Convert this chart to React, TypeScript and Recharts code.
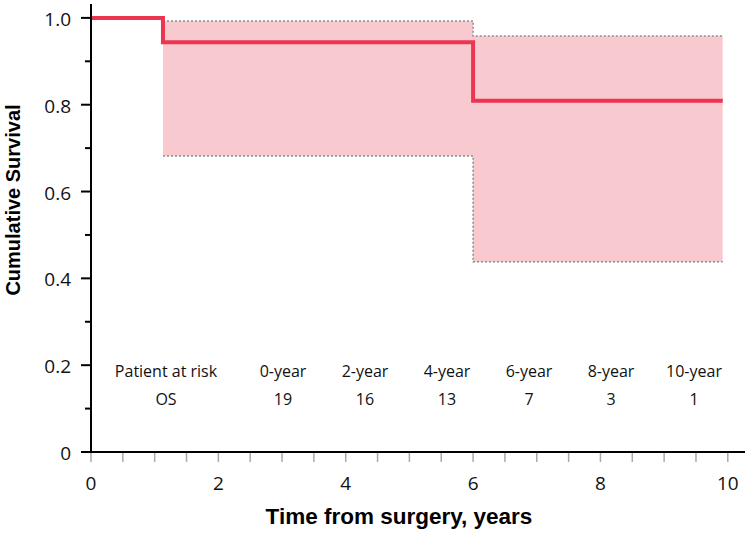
import { Area, ComposedChart, Customized, Line, XAxis, YAxis } from "recharts";

// survival step points (years from surgery)
const times = [0, 1.13, 6, 9.92];
const survival = [1, 0.944, 0.809, 0.809];
const ciLower = [null, 0.682, 0.438, 0.438];
const ciUpper = [null, 0.993, 0.958, 0.958];

// number at risk table
const riskYears = ["0-year", "2-year", "4-year", "6-year", "8-year", "10-year"];
const riskCounts = ["19", "16", "13", "7", "3", "1"];

const xTicks = [0, 0.5, 1, 1.5, 2, 2.5, 3, 3.5, 4, 4.5, 5, 5.5, 6, 6.5, 7, 7.5, 8, 8.5, 9, 9.5, 10];
const yTicks = [0, 0.1, 0.2, 0.3, 0.4, 0.5, 0.6, 0.7, 0.8, 0.9, 1.0];

const X_MAX = 10.27;
const Y_MAX = 1.032;
const AXIS_X = 91;
const AXIS_Y = 452;

const data = times.map((t, i) => ({
  t,
  s: survival[i],
  ci: ciLower[i] == null ? null : [ciLower[i], ciUpper[i]],
}));

const tickFont = { fontFamily: "'Open Sans', sans-serif", fontSize: 19, fill: "#111" };

const YTick = (props: any) => {
  const { y, payload } = props;
  const v = payload.value;
  const major = Math.round(v * 10) % 2 === 0;
  return (
    <g>
      <line x1={AXIS_X - (major ? 10 : 6)} x2={AXIS_X} y1={y} y2={y} stroke="#000" strokeWidth={2} />
      {major && (
        <text x={AXIS_X - 20} y={y + 8} textAnchor="end" {...tickFont}>
          {v === 0 ? "0" : v.toFixed(1)}
        </text>
      )}
    </g>
  );
};

const XTick = (props: any) => {
  const { x, payload } = props;
  const v = payload.value;
  const major = v % 2 === 0;
  return (
    <g>
      <line x1={x} x2={x} y1={AXIS_Y + 1} y2={AXIS_Y + 10} stroke="#aaa" strokeWidth={1.5} />
      {major && (
        <text x={x} y={490} textAnchor="middle" {...tickFont}>
          {v}
        </text>
      )}
    </g>
  );
};

const colX = [283, 365, 447, 529, 611, 694];

const Extras = () => {
  const f = { fontFamily: "'Open Sans', sans-serif", fontSize: 16, fill: "#111", textAnchor: "middle" as const };
  return (
    <g>
      <text x={166} y={377} {...f}>Patient at risk</text>
      <text x={166} y={405} {...f}>OS</text>
      {riskYears.map((r, i) => (
        <text key={r} x={colX[i]} y={377} {...f}>{r}</text>
      ))}
      {riskCounts.map((c, i) => (
        <text key={i} x={colX[i]} y={405} {...f}>{c}</text>
      ))}
      <text
        x={399}
        y={524}
        textAnchor="middle"
        fontFamily="'Liberation Sans', Arial, sans-serif"
        fontWeight="bold"
        fontSize={22.5}
        fill="#000"
      >
        Time from surgery, years
      </text>
      <text
        x={20}
        y={200}
        transform="rotate(-90 20 200)"
        textAnchor="middle"
        fontFamily="'Liberation Sans', Arial, sans-serif"
        fontWeight="bold"
        fontSize={20}
        fill="#000"
      >
        Cumulative Survival
      </text>
    </g>
  );
};

const App = () => {
  return (
    <div style={{ position: "absolute", left: 0, top: 0 }}>
      <ComposedChart width={749} height={533} data={data} margin={{ top: 4, right: 4, left: 0, bottom: 41 }}>
        <XAxis
          dataKey="t"
          type="number"
          domain={[0, X_MAX]}
          ticks={xTicks}
          interval={0}
          height={40}
          tickLine={false}
          tick={<XTick />}
          axisLine={{ stroke: "#000", strokeWidth: 2 }}
          allowDataOverflow
        />
        <XAxis
          xAxisId="top"
          orientation="top"
          type="number"
          domain={[0, X_MAX]}
          height={0}
          tick={false}
          tickLine={false}
          axisLine={{ stroke: "#000", strokeWidth: 2 }}
        />
        <YAxis
          type="number"
          domain={[0, Y_MAX]}
          ticks={yTicks}
          interval={0}
          width={91}
          tickLine={false}
          tick={<YTick />}
          axisLine={{ stroke: "#000", strokeWidth: 2 }}
          allowDataOverflow
        />
        <YAxis
          yAxisId="right"
          orientation="right"
          type="number"
          domain={[0, Y_MAX]}
          width={0}
          tick={false}
          tickLine={false}
          axisLine={{ stroke: "#000", strokeWidth: 2 }}
        />
        <Area
          dataKey="ci"
          type="stepAfter"
          fill="#f9c9d0"
          fillOpacity={1}
          stroke="#8c8c8c"
          strokeWidth={1.5}
          strokeDasharray="2 2"
          isAnimationActive={false}
        />
        <Line
          dataKey="s"
          type="stepAfter"
          stroke="#ec3550"
          strokeWidth={4}
          dot={false}
          isAnimationActive={false}
        />
        <Customized component={Extras} />
      </ComposedChart>
    </div>
  );
};

export default App;
